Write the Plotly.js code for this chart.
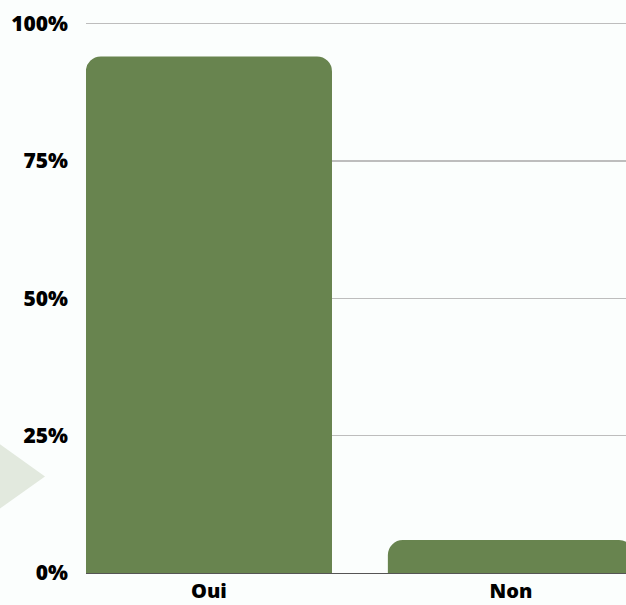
<!DOCTYPE html>
<html>
<head>
<meta charset="utf-8">
<script src="https://cdn.plot.ly/plotly-3.0.1.min.js"></script>
<style>html,body{margin:0;padding:0;background:#fbfefd;}#chart{width:626px;height:605px;}</style>
</head>
<body>
<div id="chart"></div>
<script>
const categories = ["Oui", "Non"];
const values = [94, 6];
const tickValues = [0, 25, 50, 75, 100];
const tickLabels = ["0%", "25%", "50%", "75%", "100%"];

const trace = {
  type: "bar",
  x: [0, 1],
  y: values,
  width: 0.815,
  marker: { color: "#68844f" },
  hoverinfo: "skip"
};

const layout = {
  width: 626,
  height: 605,
  margin: { l: 86, r: 0, t: 18, b: 32 },
  paper_bgcolor: "#fbfefd",
  plot_bgcolor: "#fbfefd",
  showlegend: false,
  barcornerradius: 15,
  font: { family: "Open Sans", size: 21, color: "#000000", weight: 800 },
  xaxis: {
    range: [-0.407, 1.381],
    tickvals: [0, 1],
    ticktext: categories,
    showgrid: false,
    zeroline: false,
    showline: false,
    ticks: "",
    ticklabelstandoff: 4,
    tickfont: { family: "Open Sans", size: 20, weight: 800, color: "#000" },
    fixedrange: true
  },
  yaxis: {
    range: [0, 101],
    tickvals: tickValues,
    ticktext: tickLabels,
    showgrid: true,
    gridcolor: "#bdbdbd",
    gridwidth: 1.3,
    zeroline: true,
    zerolinecolor: "#555555",
    zerolinewidth: 1,
    showline: false,
    ticks: "",
    ticklabelstandoff: 17,
    tickfont: { family: "Open Sans", size: 21, weight: 800, color: "#000" },
    fixedrange: true
  },
  shapes: [{
    type: "path",
    xref: "paper",
    yref: "paper",
    path: "M -0.2,0.26 L -0.0759,0.174 L -0.2,0.088 Z",
    fillcolor: "#e2e9de",
    line: { width: 0 },
    layer: "below"
  }]
};

Plotly.newPlot("chart", [trace], layout, { displayModeBar: false, staticPlot: true });
</script>
</body>
</html>
